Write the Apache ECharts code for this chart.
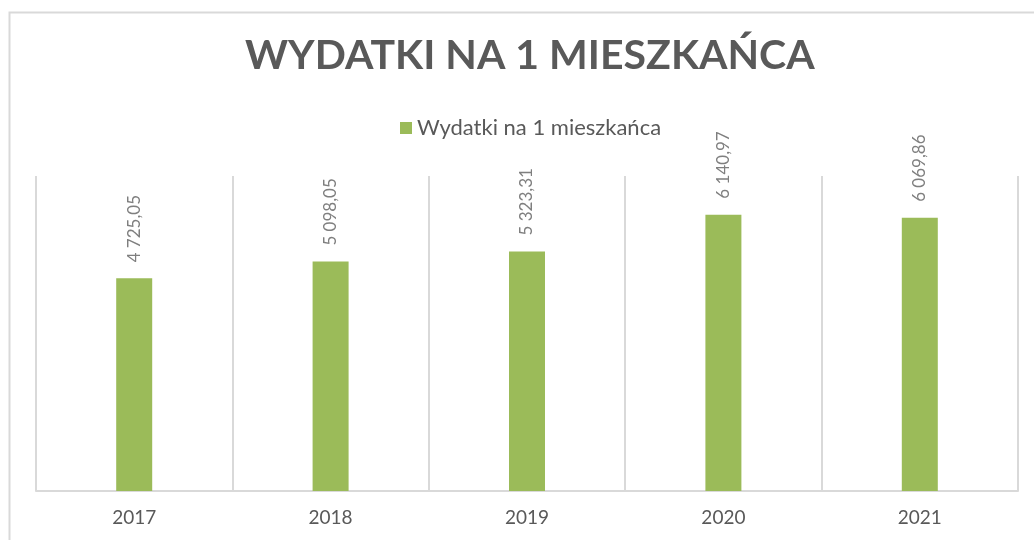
<!DOCTYPE html>
<html><head><meta charset="utf-8">
<script src="https://cdn.jsdelivr.net/npm/echarts@6/dist/echarts.min.js"></script>
<style>html,body{margin:0;padding:0;background:#fff}#c{width:1034px;height:540px}</style>
</head><body><div id="c"></div>
<script>
const categories = ['2017', '2018', '2019', '2020', '2021'];
const values = [4725.05, 5098.05, 5323.31, 6140.97, 6069.86];
const seriesName = 'Wydatki na 1 mieszkańca';
const titleText = 'WYDATKI NA 1 MIESZKAŃCA';

function fmt(v) {
  const parts = v.toFixed(2).split('.');
  const int = parts[0].replace(/\B(?=(\d{3})+(?!\d))/g, ' ');
  return int + ',' + parts[1];
}

const chart = echarts.init(document.getElementById('c'));
chart.setOption({
  animation: false,
  backgroundColor: '#fff',
  graphic: [{
    type: 'rect', left: 7, top: 10, shape: {width: 1040, height: 540},
    style: {fill: 'none', stroke: '#D9D9D9', lineWidth: 2}, silent: true
  }],
  title: {
    text: titleText, left: 240, top: 30,
    textStyle: {fontFamily: 'Lato', fontWeight: 'bold', fontSize: 41, color: '#595959'}
  },
  legend: {
    data: [seriesName], left: 395, top: 112, itemWidth: 12, itemHeight: 12, itemGap: 6,
    icon: 'rect',
    textStyle: {fontFamily: 'Lato', fontSize: 22, color: '#595959'}
  },
  grid: {left: 36, right: 16, top: 176, bottom: 49},
  xAxis: {
    type: 'category', data: categories,
    axisLine: {lineStyle: {color: '#D9D9D9', width: 2}},
    axisTick: {show: false},
    splitLine: {show: true, lineStyle: {color: '#D9D9D9', width: 2}},
    axisLabel: {fontFamily: 'Lato', fontSize: 19, color: '#595959', margin: 17}
  },
  yAxis: {type: 'value', min: 0, max: 7000, show: false, splitLine: {show: false}},
  series: [{
    name: seriesName, type: 'bar', data: values, barWidth: 36,
    itemStyle: {color: '#9BBB59'},
    label: {
      show: true, position: 'top', rotate: 90, align: 'left', verticalAlign: 'middle',
      distance: 16, formatter: p => fmt(p.value),
      fontFamily: 'Lato', fontSize: 17, color: '#7F7F7F'
    }
  }]
});
</script></body></html>
